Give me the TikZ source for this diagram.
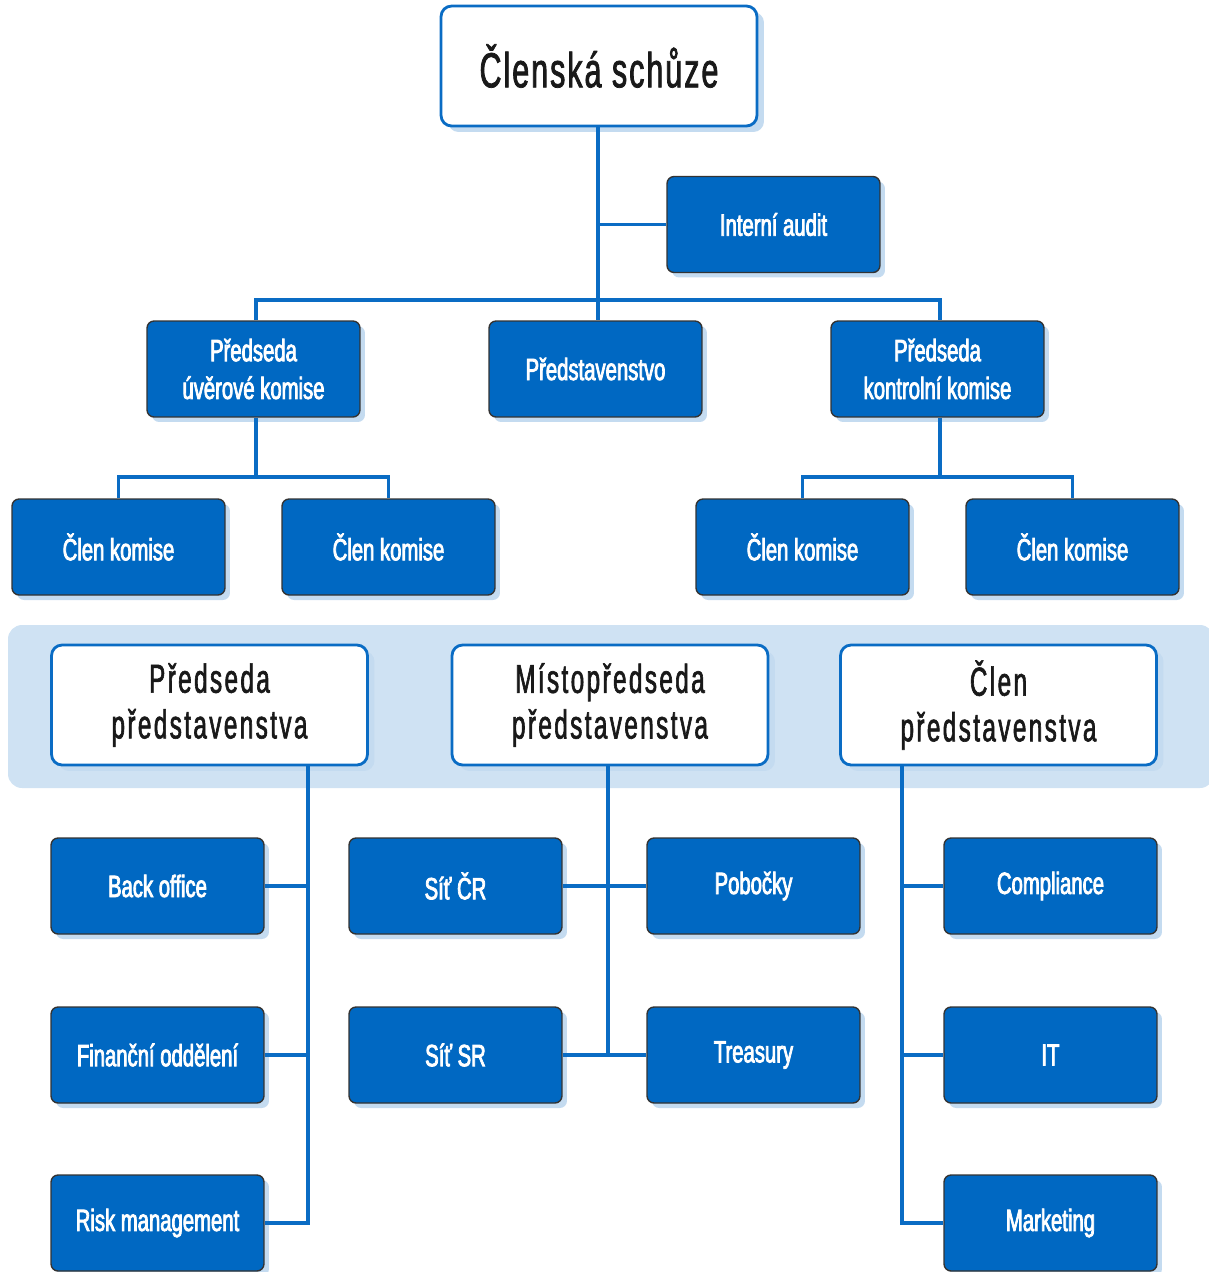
\documentclass[tikz,border=0pt]{standalone}
\usepackage{fontspec}
\setsansfont{Liberation Sans}[FakeStretch=0.66, FakeBold=2.5]
\newfontfamily\headfont{Liberation Sans}[FakeStretch=0.6, LetterSpace=6, FakeBold=1.5]
\newfontfamily\topfont{Liberation Sans}[FakeStretch=0.62, LetterSpace=4, FakeBold=1.5]
\usepackage{tikz}
\usetikzlibrary{positioning, calc, shadows}

\definecolor{orgblue}{HTML}{0068C2}
\definecolor{lineblue}{HTML}{0A6CC4}
\definecolor{paleblue}{HTML}{CFE2F3}
\definecolor{shadeblue}{HTML}{C4DBF0}

\begin{document}
\begin{tikzpicture}[
      x=0.02cm, y=-0.02cm,
      every node/.style={font=\sffamily},
      unit/.style={rectangle, draw=black!80, line width=0.8pt, fill=orgblue, text=white, rounded corners=4pt, minimum width=4.26cm, minimum height=1.92cm, align=center, font=\sffamily\fontsize{17.5}{21.5}\selectfont, drop shadow={shadow xshift=0.1cm, shadow yshift=-0.1cm, fill=shadeblue, opacity=1}},
      head/.style={rectangle, draw=lineblue, line width=1.6pt, fill=white, text=black!90, rounded corners=6pt, minimum width=6.32cm, minimum height=2.4cm, align=center, font=\headfont\fontsize{23}{26}\selectfont, drop shadow={shadow xshift=0.14cm, shadow yshift=-0.12cm, fill=shadeblue, opacity=1}},
      link/.style={draw=lineblue, line width=2.2pt}
    ]
    \useasboundingbox (0,0) rectangle (1208,1272);

    % band behind the board members
    \fill[paleblue, rounded corners=8pt] (8,625) rectangle (1214,788);

    % top of the tree
    \node[head, font=\topfont\fontsize{28}{32}\selectfont] (top) at (599,66) {Členská schůze};
    \node[unit] (audit) at (773.5,224.5) {Interní audit};
    \node[unit] (credit) at (253.5,369) {Předseda\\úvěrové komise};
    \node[unit] (board) at (595.5,369) {Představenstvo};
    \node[unit] (control) at (937.5,369) {Předseda\\kontrolní komise};

    % committee members
    \node[unit] (cm1) at (118.5,547) {Člen komise};
    \node[unit] (cm2) at (388.5,547) {Člen komise};
    \node[unit] (cm3) at (802.5,547) {Člen komise};
    \node[unit] (cm4) at (1072.5,547) {Člen komise};

    % board members
    \node[head] (chair) at (209.5,705) {Předseda\\představenstva};
    \node[head] (vice) at (610,705) {Místopředseda\\představenstva};
    \node[head] (member) at (998.5,705) {Člen\\představenstva};

    % departments
    \node[unit] (backoffice) at (157.5,886) {Back office};
    \node[unit] (finance) at (157.5,1055) {Finanční oddělení};
    \node[unit] (risk) at (157.5,1223) {Risk management};
    \node[unit] (sitcr) at (455.5,886) {Síť ČR};
    \node[unit] (sitsr) at (455.5,1055) {Síť SR};
    \node[unit] (branches) at (753.5,886) {Pobočky};
    \node[unit] (treasury) at (753.5,1055) {Treasury};
    \node[unit] (compliance) at (1050.5,886) {Compliance};
    \node[unit] (it) at (1050.5,1055) {IT};
    \node[unit] (marketing) at (1050.5,1223) {Marketing};

    % fork points
    \coordinate (split) at (598,300);
    \coordinate (creditfork) at (256,477);
    \coordinate (controlfork) at (940,477);
    \coordinate (chairfoot) at (308,1223);
    \coordinate (memberfoot) at (902,1223);

    % connectors
    \draw[link] (top.south -| split) -- (board.north -| split);
    \draw[link] (audit.west) -- (audit.west -| split);
    \draw[link] (credit.north -| creditfork) |- (split) -| (control.north -| controlfork);
    \draw[link] (credit.south -| creditfork) -- (creditfork);
    \draw[link] (cm1.north) |- (creditfork) -| (cm2.north);
    \draw[link] (control.south -| controlfork) -- (controlfork);
    \draw[link] (cm3.north) |- (controlfork) -| (cm4.north);

    \draw[link] (chair.south -| chairfoot) -- (chairfoot) -- (risk.east);
    \draw[link] (backoffice.east) -- (backoffice.east -| chairfoot);
    \draw[link] (finance.east) -- (finance.east -| chairfoot);

    \draw[link] (vice.south -| 608,0) -- (treasury.west -| 608,0);
    \draw[link] (sitcr.east) -- (branches.west);
    \draw[link] (sitsr.east) -- (treasury.west);

    \draw[link] (member.south -| memberfoot) -- (memberfoot) -- (marketing.west);
    \draw[link] (compliance.west) -- (compliance.west -| memberfoot);
    \draw[link] (it.west) -- (it.west -| memberfoot);
\end{tikzpicture}
\end{document}
